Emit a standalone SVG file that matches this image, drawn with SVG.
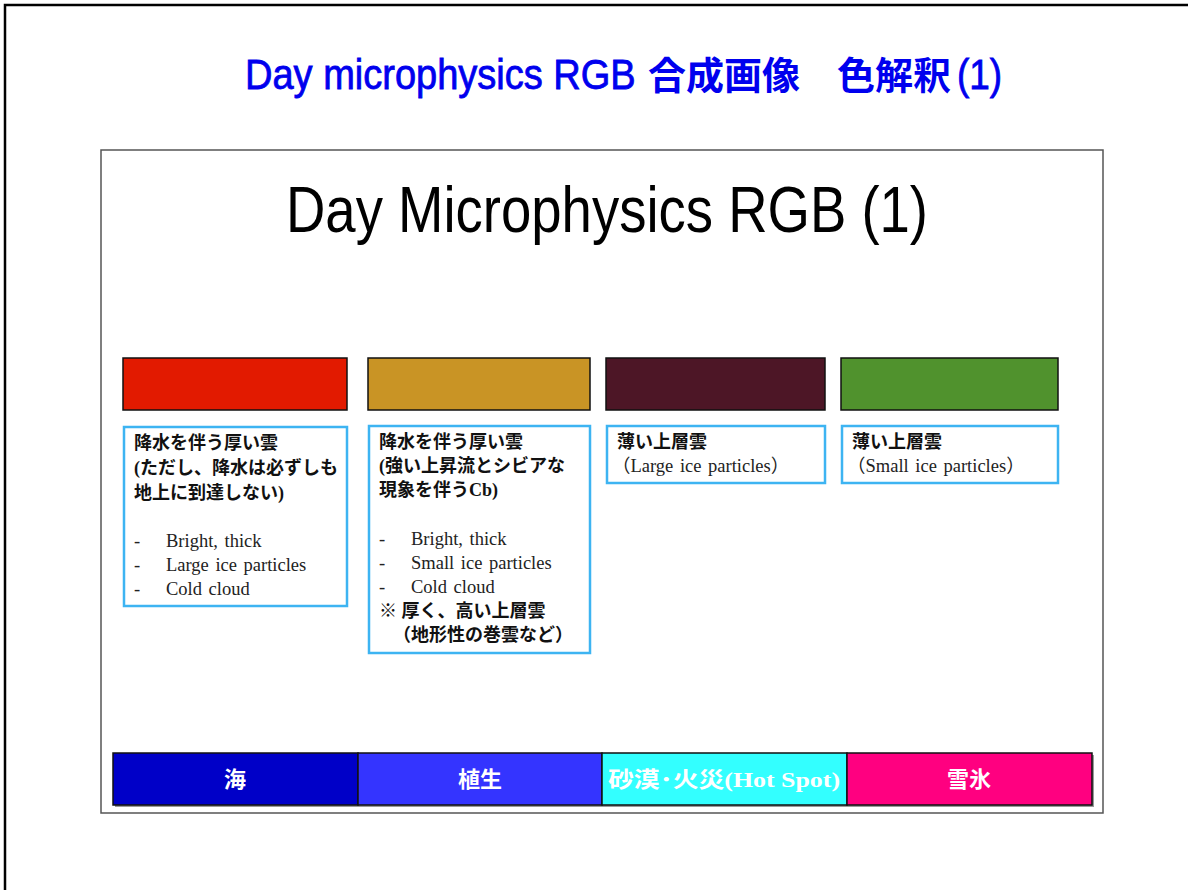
<svg xmlns="http://www.w3.org/2000/svg" width="1188" height="890" viewBox="0 0 1188 890">
<style>
.sw{stroke:#111;stroke-width:1.5}
.tb{fill:#fff;stroke:#3db4f2;stroke-width:2.5}
.jp{font-family:"Liberation Serif","Noto Sans CJK JP",serif;font-size:18px;font-weight:bold;fill:#111}
.en{font-family:"Liberation Serif","Noto Sans CJK JP",serif;font-size:18.5px;fill:#222;word-spacing:2px}
.lg{font-family:"Liberation Serif","Noto Sans CJK JP",serif;font-size:22px;font-weight:bold;fill:#fff;text-anchor:middle}
.tt{font-family:"Liberation Sans","Noto Sans CJK JP",sans-serif;fill:#0000ee}
.la{font-size:42px;stroke:#0000ee;stroke-width:0.8}
.cj{font-size:38px;font-weight:bold}
</style>
<rect width="1188" height="890" fill="#fff"/>
<path d="M5,890 V5 H1188" fill="none" stroke="#000" stroke-width="2.5"/>
<g id="title">
<text class="tt la" transform="translate(245,89) scale(0.905,1)">Day microphysics RGB</text>
<text class="tt cj" x="648" y="89">合成画像</text>
<text class="tt cj" x="837" y="89">色解釈</text>
<text class="tt la" transform="translate(957,89) scale(0.88,1)">(1)</text>
</g>
<g id="slide">
<rect x="101" y="150" width="1002" height="663" fill="#fff" stroke="#555" stroke-width="1.5"/>
<text x="286" y="232" font-family="'Liberation Sans','Noto Sans CJK JP',sans-serif" font-size="64" fill="#000" textLength="642" lengthAdjust="spacingAndGlyphs">Day Microphysics RGB (1)</text>
</g>
<g id="swatch-red"><rect class="sw" x="123" y="358" width="224" height="52" fill="#e21a00"/></g>
<g id="swatch-gold"><rect class="sw" x="368" y="358" width="222" height="52" fill="#c99425"/></g>
<g id="swatch-maroon"><rect class="sw" x="606" y="358" width="219" height="52" fill="#4d1626"/></g>
<g id="swatch-green"><rect class="sw" x="841" y="358" width="217" height="52" fill="#50922d"/></g>
<g id="box1">
<rect class="tb" x="124" y="427" width="223" height="179"/>
<text class="jp" x="134" y="449">降水を伴う厚い雲</text>
<text class="jp" x="134" y="474">(ただし、降水は必ずしも</text>
<text class="jp" x="134" y="499">地上に到達しない)</text>
<text class="en" x="134" y="547">-</text><text class="en" x="166" y="547">Bright, thick</text>
<text class="en" x="134" y="571">-</text><text class="en" x="166" y="571">Large ice particles</text>
<text class="en" x="134" y="595">-</text><text class="en" x="166" y="595">Cold cloud</text>
</g>
<g id="box2">
<rect class="tb" x="369" y="426" width="221" height="227"/>
<text class="jp" x="379" y="448">降水を伴う厚い雲</text>
<text class="jp" x="379" y="472">(強い上昇流とシビアな</text>
<text class="jp" x="379" y="496">現象を伴うCb)</text>
<text class="en" x="379" y="545">-</text><text class="en" x="411" y="545">Bright, thick</text>
<text class="en" x="379" y="569">-</text><text class="en" x="411" y="569">Small ice particles</text>
<text class="en" x="379" y="593">-</text><text class="en" x="411" y="593">Cold cloud</text>
<text class="jp" x="379" y="617">※ 厚く、高い上層雲</text>
<text class="jp" x="393" y="641">（地形性の巻雲など）</text>
</g>
<g id="box3">
<rect class="tb" x="607" y="426" width="218" height="57"/>
<text class="jp" x="617" y="448">薄い上層雲</text>
<text class="en" x="612" y="472">（Large  ice particles）</text>
</g>
<g id="box4">
<rect class="tb" x="842" y="426" width="216" height="57"/>
<text class="jp" x="852" y="448">薄い上層雲</text>
<text class="en" x="847" y="472">（Small  ice particles）</text>
</g>
<g id="legend">
<rect x="115" y="755" width="979" height="52" fill="#999"/>
<rect class="sw" x="113" y="753" width="245" height="52" fill="#0000c8"/>
<rect class="sw" x="358" y="753" width="244" height="52" fill="#3434ff"/>
<rect class="sw" x="602" y="753" width="245" height="52" fill="#33ffff"/>
<rect class="sw" x="847" y="753" width="245" height="52" fill="#ff0080"/>
<text class="lg" x="235" y="787">海</text>
<text class="lg" x="480" y="787">植生</text>
<text class="lg" x="724" y="787" textLength="232" lengthAdjust="spacingAndGlyphs">砂漠･火災(Hot Spot)</text>
<text class="lg" x="969" y="787">雪氷</text>
</g>
</svg>
